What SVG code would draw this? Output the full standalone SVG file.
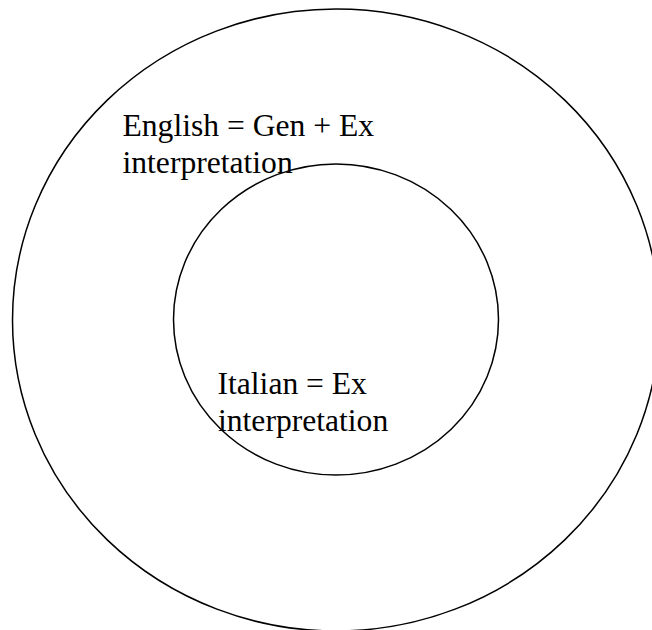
<svg xmlns="http://www.w3.org/2000/svg" width="652" height="630" viewBox="0 0 652 630">
<style>
.c{fill:none;stroke:#000;stroke-width:1.5}
.t{font-family:"Liberation Serif","Times New Roman",serif;font-size:31.6px;fill:#000}
</style>
<rect width="652" height="630" fill="#fff"/>
<g id="english">
<ellipse class="c" cx="336" cy="320" rx="323.5" ry="311"/>
<text class="t" x="122.5" y="136">English = Gen + Ex</text>
<text class="t" x="122.5" y="172.5">interpretation</text>
</g>
<g id="italian">
<ellipse class="c" cx="336" cy="319.5" rx="162.5" ry="155.5"/>
<text class="t" x="217.5" y="394">Italian = Ex</text>
<text class="t" x="218" y="431">interpretation</text>
</g>
<g id="connectors"/>
</svg>
